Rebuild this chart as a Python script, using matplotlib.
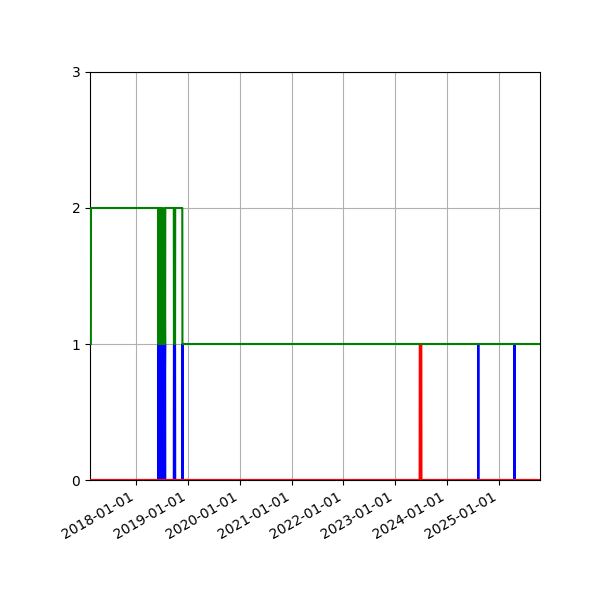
import matplotlib
matplotlib.use('Agg')
from matplotlib import pyplot as plt
import matplotlib.dates as mdates
import pandas as pd

# serie azul (0 / 1)
blue_dates = ['2017-02-08', '2018-06-03', '2018-06-04', '2018-06-08', '2018-06-09',
              '2018-06-13', '2018-06-14', '2018-06-19', '2018-06-20', '2018-06-26',
              '2018-06-27', '2018-07-03', '2018-07-04', '2018-07-08', '2018-07-09',
              '2018-07-16', '2018-07-17', '2018-07-23', '2018-07-24', '2018-09-22',
              '2018-09-23', '2018-10-01', '2018-10-02', '2018-11-21', '2018-11-22',
              '2018-11-23', '2018-11-24', '2024-08-08', '2024-08-09', '2024-08-10',
              '2025-04-20', '2025-04-21', '2025-04-22', '2025-10-18']
blue_values = [0, 0, 1, 1, 0,
               0, 1, 1, 0, 0,
               1, 1, 0, 1, 1,
               1, 0, 1, 0, 0,
               1, 1, 0, 0, 1,
               1, 0, 0, 1, 0,
               0, 1, 0, 0]

# serie roja (0 / 1)
red_dates = ['2017-02-08', '2023-06-22', '2023-06-23', '2023-07-04', '2023-07-05', '2025-10-18']
red_values = [0, 0, 1, 1, 0, 0]

# serie verde (1 / 2)
green_dates = ['2017-02-14', '2017-02-15', '2018-06-03', '2018-06-04', '2018-06-08', '2018-06-09',
               '2018-06-13', '2018-06-14', '2018-06-19', '2018-06-20', '2018-06-26',
               '2018-06-27', '2018-07-03', '2018-07-04', '2018-07-08', '2018-07-09',
               '2018-07-16', '2018-07-17', '2018-07-23', '2018-07-24', '2018-09-22',
               '2018-09-23', '2018-10-01', '2018-10-02', '2018-11-21', '2018-11-22',
               '2025-10-18']
green_values = [1, 2, 2, 1, 1, 2,
                2, 1, 1, 2, 2,
                1, 1, 2, 1, 1,
                1, 2, 1, 2, 2,
                1, 1, 2, 2, 1,
                1]

fig = plt.figure(figsize=(6, 6), dpi=100)
ax = fig.add_axes([0.15, 0.2, 0.75, 0.68])

ax.plot(pd.to_datetime(blue_dates), blue_values, color='blue', zorder=3)
ax.plot(pd.to_datetime(red_dates), red_values, color='red', zorder=3)
ax.plot(pd.to_datetime(green_dates), green_values, color='green', zorder=3)

ax.set_xlim(pd.Timestamp('2017-02-08'), pd.Timestamp('2025-10-18'))
ax.set_ylim(0, 3)
ax.set_yticks([0, 1, 2, 3])
ax.xaxis.set_major_locator(mdates.YearLocator())
ax.xaxis.set_major_formatter(mdates.DateFormatter('%Y-%m-%d'))
ax.grid(True)

for lab in ax.get_xticklabels():
    lab.set_rotation(30)
    lab.set_ha('right')

fig.savefig('out.png', dpi=100)
